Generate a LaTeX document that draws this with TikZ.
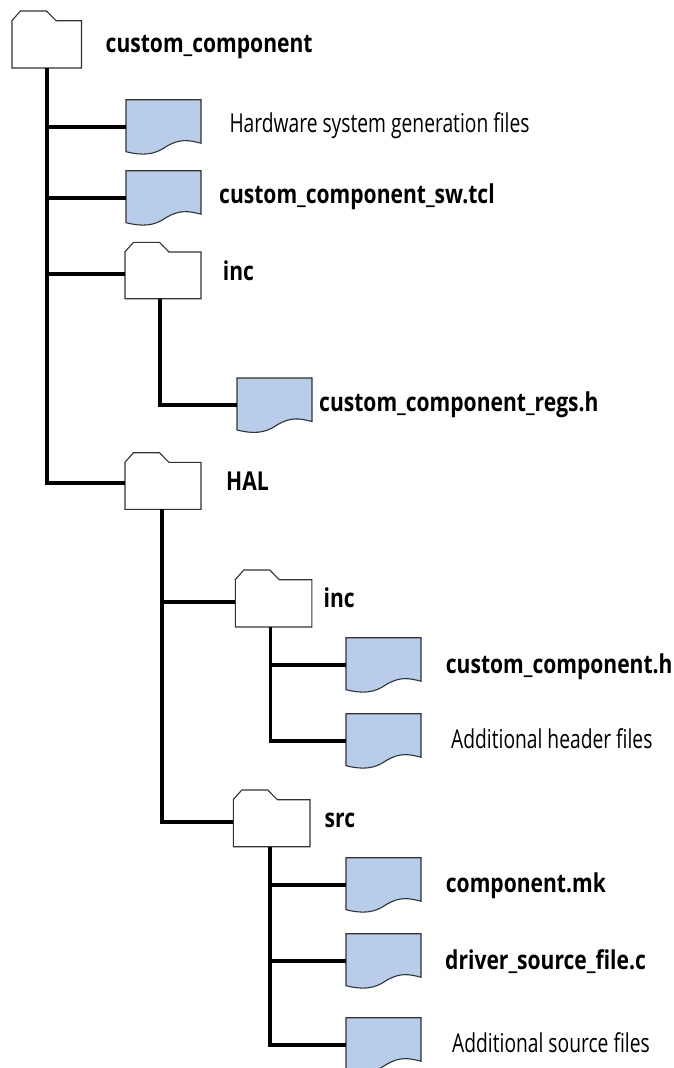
\documentclass[tikz,border=0pt]{standalone}
\usepackage{fontspec}
\setmainfont[FakeStretch=0.74,BoldFont={Open Sans Bold},BoldFeatures={FakeStretch=0.81}]{Open Sans}
\tikzset{
  x=1pt,y=-1pt,
  anchorbox/.style={inner sep=0pt,outer sep=0pt},
  shapeline/.style={draw=black!80!white,line width=1.1pt,line join=miter},
  conn/.style={draw=black,line width=3.6pt,line cap=butt,line join=miter},
  lab/.style={anchor=base west,inner sep=0pt,text=black,font=\fontsize{26pt}{30pt}\selectfont},
  blab/.style={lab,font=\fontsize{26pt}{30pt}\selectfont\bfseries}
}
\definecolor{docblue}{RGB}{184,205,234}
% name, left, top, width, height, trunk x, connector y
\newcommand{\folderat}[7]{%
  \path[shapeline,fill=white] (#2,#3+9.5) -- ++(8.5,-9.5) -- ++(26,0) -- ++(9.5,9.7) -- (#2+#4,#3+9.7) -- (#2+#4,#3+#5) -- (#2,#3+#5) -- cycle;
  \node[anchorbox,minimum width={2*(#6-#2)*1pt},minimum height={2*(#3+#5-#7)*1pt}] (#1) at (#6,#7) {};}
% name, left, top
\newcommand{\docat}[3]{%
  \path[shapeline,fill=docblue] (#2,#3) -- (#2+75,#3) -- (#2+75,#3+43.5)
    .. controls (#2+63,#3+40.5) and (#2+54,#3+38.5) .. (#2+40,#3+47)
    .. controls (#2+28,#3+55.5) and (#2+16,#3+56) .. (#2,#3+52) -- cycle;
  \node[anchorbox,minimum width=75pt,minimum height=54pt] (#1) at (#2+37.5,#3+27) {};}
\begin{document}
\begin{tikzpicture}
\useasboundingbox (0,0) rectangle (673,1068);
\clip (0,0) rectangle (673,1068);
\fill[white] (0,0) rectangle (673,1068);
% shapes
\folderat{root}{12}{11}{69.5}{57}{46.7}{39}
\docat{hw}{126}{99.7}
\docat{sw}{126}{170.7}
\folderat{inca}{125}{242.3}{76}{56.4}{159.7}{274}
\docat{regs}{237}{378}
\folderat{hal}{125}{452.7}{76}{56.6}{161.7}{482.7}
\folderat{incb}{235.3}{570}{76.5}{57}{270.3}{602}
\docat{comph}{346}{637.7}
\docat{addh}{346}{713.7}
\folderat{src}{233.3}{790}{76.7}{56.7}{270}{822}
\docat{mk}{346}{857.7}
\docat{drv}{346}{933.7}
\docat{adds}{346}{1017.7}
% connectors
\draw[conn] (root.south) |- (hw.west);
\draw[conn] (root.south) |- (sw.west);
\draw[conn] (root.south) |- (inca.west);
\draw[conn] (root.south) |- (hal.west);
\draw[conn] (inca.south) |- (regs.west);
\draw[conn] (hal.south) |- (incb.west);
\draw[conn] (hal.south) |- (src.west);
\draw[conn] (incb.south) |- (comph.west);
\draw[conn] (incb.south) |- (addh.west);
\draw[conn] (src.south) |- (mk.west);
\draw[conn] (src.south) |- (drv.west);
\draw[conn] (src.south) |- (adds.west);
% labels
\node[blab] (t1) at (105.5,52) {custom\_component};
\node[lab] (t2) at (229.3,132.7) {Hardware system generation files};
\node[blab] (t3) at (219,203.3) {custom\_component\_sw.tcl};
\node[blab] (t4) at (222.7,280.7) {inc};
\node[blab] (t5) at (319,411.7) {custom\_component\_regs.h};
\node[blab] (t6) at (226,490) {HAL};
\node[blab] (t7) at (323.5,607.7) {inc};
\node[blab] (t8) at (445.7,673) {custom\_component.h};
\node[lab] (t9) at (451,748.7) {Additional header files};
\node[blab] (t10) at (324.5,827.7) {src};
\node[blab] (t11) at (445.7,892.3) {component.mk};
\node[blab] (t12) at (445,969) {driver\_source\_file.c};
\node[lab] (t13) at (452,1052.7) {Additional source files};
\end{tikzpicture}
\end{document}
